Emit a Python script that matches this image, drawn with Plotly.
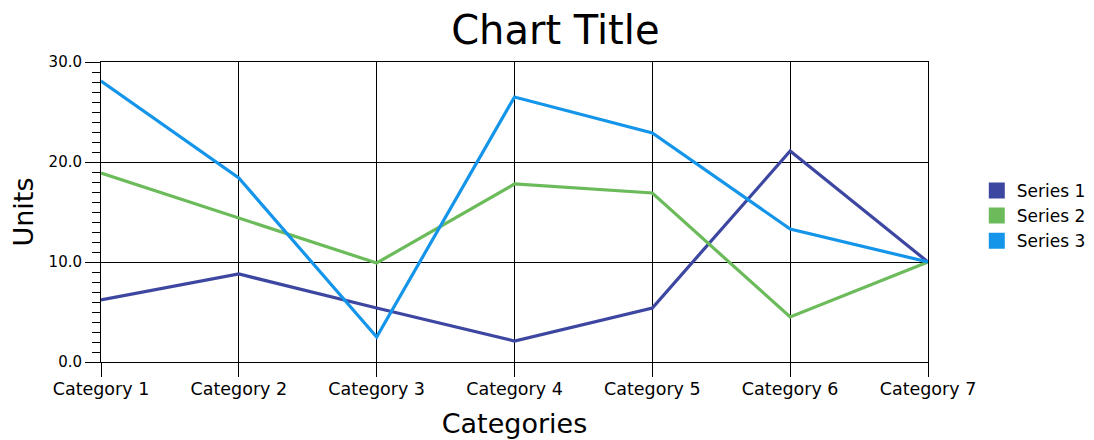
import plotly.graph_objects as go

categories = ["Category 1", "Category 2", "Category 3", "Category 4", "Category 5", "Category 6", "Category 7"]
series_names = ["Series 1", "Series 2", "Series 3"]
series1 = [6.2, 8.8, 5.4, 2.1, 5.4, 21.1, 10.0]
series2 = [18.9, 14.4, 9.9, 17.8, 16.9, 4.5, 10.0]
series3 = [28.1, 18.4, 2.5, 26.5, 22.9, 13.3, 10.0]
colors = ["#3D47A1", "#6CBB5B", "#1495EA"]
y_ticks = [0, 10, 20, 30]

FONT = "DejaVu Sans"
xpos = list(range(len(categories)))

fig = go.Figure()
for name, vals, col in zip(series_names, [series1, series2, series3], colors):
    fig.add_trace(go.Scatter(x=xpos, y=vals, mode="lines", name=name,
                             line=dict(color=col, width=3.2), legendgroup=name,
                             showlegend=False))
    fig.add_trace(go.Scatter(x=[None], y=[None], mode="markers", name=name,
                             marker=dict(symbol="square", size=20, color=col),
                             legendgroup=name, showlegend=True))

fig.update_layout(
    width=1086, height=432,
    margin=dict(l=93, r=166, t=54, b=78, autoexpand=False),
    paper_bgcolor="white", plot_bgcolor="white",
    font=dict(family=FONT, color="black", size=15),
    title=dict(text="Chart Title", x=0.504, xanchor="center", y=0.948, yanchor="middle",
               font=dict(family=FONT, size=40, color="black")),
    legend=dict(x=1.059, y=0.487, xanchor="left", yanchor="middle",
                font=dict(family=FONT, size=17, color="black"),
                itemsizing="trace", tracegroupgap=0),
    showlegend=True,
)
fig.update_xaxes(
    range=[0, len(categories) - 1], tickmode="array", tickvals=xpos, ticktext=categories,
    showgrid=True, gridcolor="black", gridwidth=1,
    showline=True, linecolor="black", linewidth=1, mirror=True,
    ticks="outside", ticklen=14, tickcolor="black", tickwidth=1,
    ticklabelstandoff=-3,
    tickfont=dict(family=FONT, size=17.5, color="black"),
    title=dict(text="Categories", font=dict(family=FONT, size=27, color="black"), standoff=16),
    zeroline=False, automargin=False,
)
fig.update_yaxes(
    range=[0, 30], tickmode="array", tickvals=y_ticks, tickformat=".1f",
    showgrid=True, gridcolor="black", gridwidth=1,
    showline=True, linecolor="black", linewidth=1, mirror=True,
    ticks="outside", ticklen=15, tickcolor="black", tickwidth=1,
    tickfont=dict(family=FONT, size=15, color="black"),
    minor=dict(ticks="outside", dtick=1, ticklen=8, tickcolor="black", tickwidth=1, showgrid=False),
    title=dict(text="Units", font=dict(family=FONT, size=27, color="black"), standoff=7),
    zeroline=False, automargin=False,
)

fig.write_html("out.html")
